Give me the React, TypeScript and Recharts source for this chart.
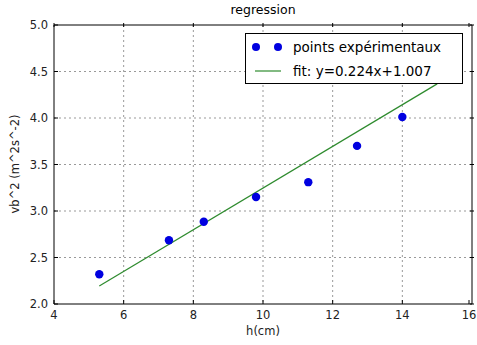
import * as React from "react"
import {
  ComposedChart,
  Scatter,
  Line,
  XAxis,
  YAxis,
  CartesianGrid,
  Legend,
} from "recharts"

// measured points
const hValues = [5.3, 7.3, 8.3, 9.8, 11.3, 12.7, 14.0]
const vb2Values = [2.32, 2.685, 2.885, 3.15, 3.31, 3.7, 4.01]

// fitted line end points
const fitH = [5.3, 15.0]
const fitVb2 = [2.194, 4.367]

const xTicks = [4, 6, 8, 10, 12, 14, 16]
const yTicks = [2.0, 2.5, 3.0, 3.5, 4.0, 4.5, 5.0]

const points = hValues.map((x, i) => ({ x, y: vb2Values[i] }))
const fit = fitH.map((x, i) => ({ x, y: fitVb2[i] }))

const FONT = "DejaVu Sans, sans-serif"
const BLUE = "#0000e0"
const GREEN = "#2e8b2e"

function BottomTick({ x, y, payload }: any) {
  return (
    <g>
      <line x1={x} y1={y} x2={x} y2={y - 4} stroke="#000" />
      <text x={x} y={y + 15} textAnchor="middle" fontSize={11.5} fill="#222" fontFamily={FONT}>
        {payload.value}
      </text>
    </g>
  )
}

function TopTick({ x, y }: any) {
  return <line x1={x} y1={y} x2={x} y2={y + 4} stroke="#000" />
}

function LeftTick({ x, y, payload }: any) {
  return (
    <g>
      <line x1={x} y1={y} x2={x + 4} y2={y} stroke="#000" />
      <text x={x - 6} y={y + 4} textAnchor="end" fontSize={11.5} fill="#222" fontFamily={FONT}>
        {payload.value.toFixed(1)}
      </text>
    </g>
  )
}

function RightTick({ x, y }: any) {
  return <line x1={x} y1={y} x2={x - 4} y2={y} stroke="#000" />
}

function LegendBox() {
  return (
    <svg width={218} height={51} style={{ display: "block" }}>
      <rect x={0.5} y={0.5} width={217} height={50} fill="#fff" stroke="#000" />
      <circle cx={11} cy={14} r={4} fill={BLUE} />
      <circle cx={33} cy={14} r={4} fill={BLUE} />
      <text x={48} y={19} fontSize={13.5} fontFamily={FONT} fill="#000">
        points expérimentaux
      </text>
      <line x1={10} y1={38} x2={36} y2={38} stroke={GREEN} strokeWidth={1.2} />
      <text x={48} y={43} fontSize={13.5} fontFamily={FONT} fill="#000">
        fit: y=0.224x+1.007
      </text>
    </svg>
  )
}

export default function App() {
  return (
    <div style={{ position: "absolute", left: 0, top: 0, width: 477, height: 345, background: "#fff" }}>
      <ComposedChart
        width={477}
        height={345}
        margin={{ top: 24, right: 4, bottom: 21, left: 14 }}
      >
        <CartesianGrid
          xAxisId="bottom"
          yAxisId="left"
          stroke="#999"
          strokeDasharray="2 3"
          horizontalValues={[2.5, 3.0, 3.5, 4.0, 4.5]}
          verticalValues={[6, 8, 10, 12, 14]}
        />
        <XAxis
          xAxisId="bottom"
          dataKey="x"
          type="number"
          domain={[4, 16]}
          ticks={xTicks}
          height={20}
          tickSize={0}
          tickMargin={0}
          tickLine={false}
          axisLine={{ stroke: "#000" }}
          tick={<BottomTick />}
          allowDataOverflow
        />
        <XAxis
          xAxisId="top"
          dataKey="x"
          orientation="top"
          type="number"
          domain={[4, 16]}
          ticks={xTicks}
          height={1}
          tickSize={0}
          tickLine={false}
          axisLine={{ stroke: "#000" }}
          tick={<TopTick />}
          allowDataOverflow
        />
        <YAxis
          yAxisId="left"
          dataKey="y"
          type="number"
          domain={[2, 5]}
          ticks={yTicks}
          width={40}
          tickSize={0}
          tickMargin={0}
          tickLine={false}
          axisLine={{ stroke: "#000" }}
          tick={<LeftTick />}
          allowDataOverflow
        />
        <YAxis
          yAxisId="right"
          dataKey="y"
          orientation="right"
          type="number"
          domain={[2, 5]}
          ticks={yTicks}
          width={1}
          tickSize={0}
          tickLine={false}
          axisLine={{ stroke: "#000" }}
          tick={<RightTick />}
          allowDataOverflow
        />
        <Line
          xAxisId="bottom"
          yAxisId="left"
          data={fit}
          dataKey="y"
          stroke={GREEN}
          strokeWidth={1.2}
          dot={false}
          isAnimationActive={false}
        />
        <Scatter
          xAxisId="bottom"
          yAxisId="left"
          data={points}
          dataKey="y"
          fill={BLUE}
          shape={(p: any) => <circle cx={p.cx} cy={p.cy} r={4.2} fill={BLUE} />}
          isAnimationActive={false}
        />
        <Scatter
          xAxisId="top"
          yAxisId="right"
          data={points}
          dataKey="y"
          legendType="none"
          shape={() => <g />}
          isAnimationActive={false}
        />
        <Legend
          layout="vertical"
          align="center"
          verticalAlign="middle"
          content={<LegendBox />}
          wrapperStyle={{ position: "absolute", top: 33, left: 245, width: 218, height: 51 }}
        />
        <text x={263} y={14} textAnchor="middle" fontSize={12.5} fontFamily={FONT} fill="#000">
          regression
        </text>
        <text x={263} y={335} textAnchor="middle" fontSize={11.5} fontFamily={FONT} fill="#222">
          h(cm)
        </text>
        <text
          x={19}
          y={164}
          textAnchor="middle"
          fontSize={11.5}
          fontFamily={FONT}
          fill="#222"
          transform="rotate(-90 19 164)"
        >
          vb^2 (m^2s^-2)
        </text>
      </ComposedChart>
    </div>
  )
}
